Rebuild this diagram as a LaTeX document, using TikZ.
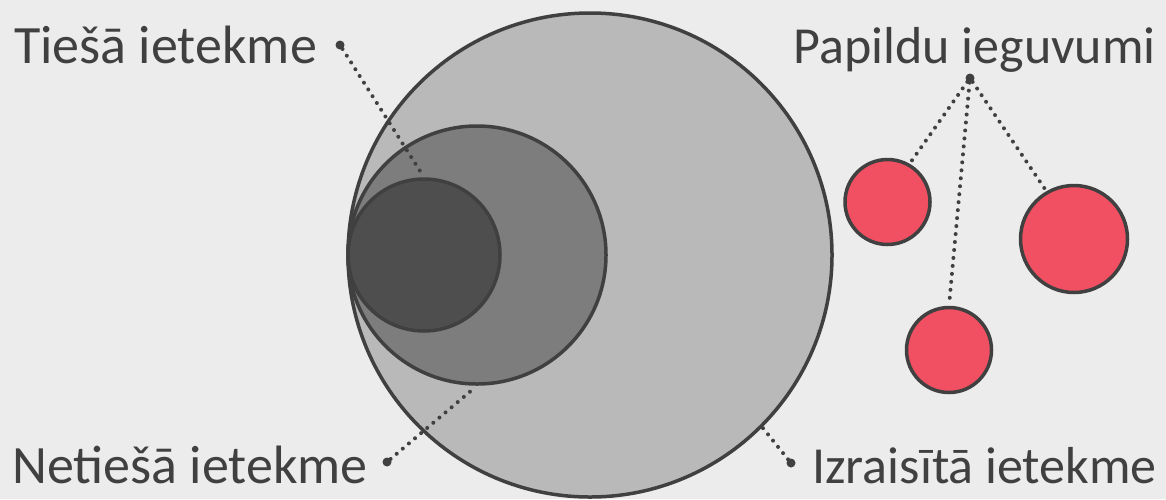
\documentclass[tikz,border=0pt]{standalone}
\usepackage{fontspec}
\setmainfont{Carlito}
\usepackage{xcolor}
\usetikzlibrary{positioning}
\definecolor{ink}{HTML}{404040}
\definecolor{bgray}{HTML}{ECECEC}
\definecolor{cherry}{HTML}{F05062}

\begin{document}
\begin{tikzpicture}[x=1pt,y=-1pt,
  ring/.style={draw=ink,circle,line width=3.5pt,inner sep=0pt,fill opacity=0.92},
  gain/.style={ring,fill=cherry,fill opacity=1},
  dot/.style={circle,fill=ink,inner sep=0pt,minimum size=9pt},
  link/.style={draw=ink,line width=4pt,line cap=round,dash pattern=on 0pt off 8pt},
  lbl/.style={text=ink,font=\fontsize{54}{60}\selectfont,inner sep=0pt},
  rlbl/.style={lbl,font=\fontsize{52}{60}\selectfont}]
  \fill[bgray] (0,0) rectangle (1166,499);
  \useasboundingbox (0,0) rectangle (1166,499);
  % nested circles
  \node[ring,fill=black!29,minimum size=484pt] (big) at (590,255) {};
  \node[ring,fill=black!53,minimum size=258pt] (mid) at (477,255) {};
  \node[ring,fill=black!71,minimum size=152pt] (small) at (424,255) {};
  % red circles
  \node[gain,minimum size=85pt] (r1) at (887.5,202) {};
  \node[gain,minimum size=107pt] (r2) at (1074,239) {};
  \node[gain,minimum size=85pt] (r3) at (949,350) {};
  % labels
  \node[lbl,anchor=base west] (tl) at (14,63) {Tiešā ietekme};
  \node[rlbl,anchor=base east] (pl) at (1156,63) {Papildu ieguvumi};
  \node[lbl,anchor=base west] (nl) at (12,483) {Netiešā ietekme};
  \node[rlbl,anchor=base east] (il) at (1157,483) {Izraisītā ietekme};
  \node[dot] (dt) at (340,45) {};
  \node[dot] (dp) at (970,78) {};
  \node[dot] (dn) at (387,462) {};
  \node[dot] (di) at (791,463) {};
  % leader lines
  \draw[link,shorten >=6pt] (dt) -- (small.north);
  \draw[link,shorten >=3pt] (dn) -- (mid.south);
  \draw[link] (di) -- (big.-45);
  \draw[link,shorten >=3pt] (dp) -- (r1.60);
  \draw[link,shorten >=4pt] (dp) -- (r3.north);
  \draw[link,shorten >=3pt] (dp) -- (r2.120);
\end{tikzpicture}
\end{document}
